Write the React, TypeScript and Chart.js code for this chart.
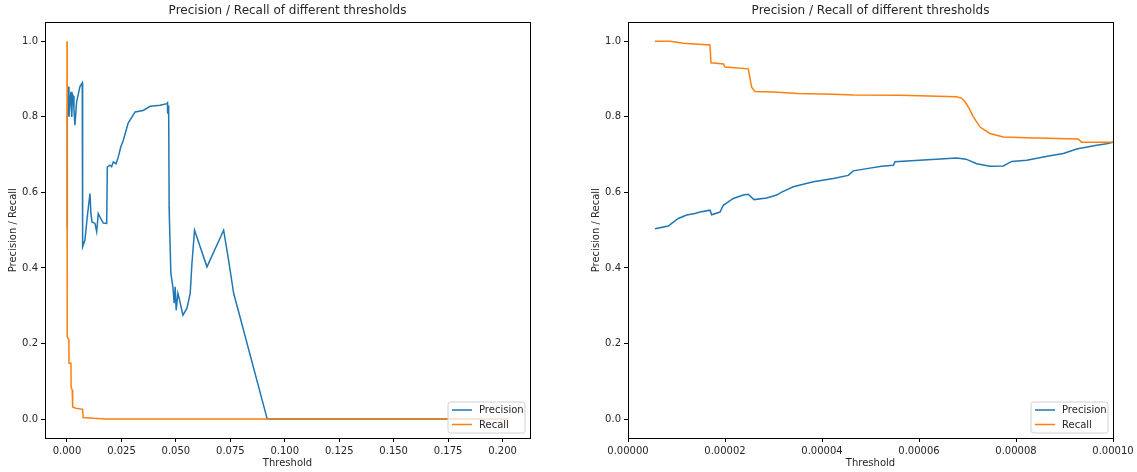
import React, { useEffect, useRef } from "react";
import { Chart, registerables } from "chart.js";

Chart.register(...registerables);

const FONT = "'DejaVu Sans', sans-serif";
const TEXT = "#262626";
const BLUE = "#1f77b4";
const ORANGE = "#ff7f0e";

const chartTitle = "Precision / Recall of different thresholds";
const xAxisTitle = "Threshold";
const yAxisTitle = "Precision / Recall";
const seriesNames = ["Precision", "Recall"];

const yTickValues = [0, 0.2, 0.4, 0.6, 0.8, 1.0];
const leftXTickValues = [0, 0.025, 0.05, 0.075, 0.1, 0.125, 0.15, 0.175, 0.2];
const rightXTickValues = [0, 0.00002, 0.00004, 0.00006, 0.00008, 0.0001];

// Left panel: full threshold range
const leftPrecisionX = [
  0.0000056, 0.00005, 0.0001, 0.0003, 0.00055, 0.0009, 0.00134, 0.0018, 0.0022, 0.0025,
  0.00285, 0.0032, 0.00364, 0.00442, 0.0052, 0.00594, 0.007, 0.00718, 0.00824, 0.0093,
  0.01054, 0.011, 0.01146, 0.01284, 0.01363, 0.01436, 0.01547, 0.01667, 0.01823, 0.01851,
  0.01975, 0.0205, 0.02127, 0.02251, 0.02357, 0.02468, 0.02587, 0.02804, 0.03126, 0.03494,
  0.03817, 0.04277, 0.04586, 0.04613, 0.0462, 0.0464, 0.0467, 0.04691, 0.047, 0.0477,
  0.04862, 0.04922, 0.04968, 0.05014, 0.05092, 0.0515, 0.05322, 0.05506, 0.05658, 0.05737,
  0.05856, 0.06427, 0.07192, 0.07422, 0.07652, 0.0796, 0.09194, 0.2025,
];
const leftPrecisionY = [
  0.504, 0.68, 0.733, 0.8, 0.88, 0.8, 0.835, 0.866, 0.8, 0.86,
  0.855, 0.82, 0.778, 0.84, 0.86, 0.88, 0.89, 0.456, 0.474, 0.535,
  0.597, 0.544, 0.522, 0.518, 0.496, 0.544, 0.531, 0.519, 0.518, 0.667,
  0.672, 0.668, 0.681, 0.676, 0.694, 0.72, 0.738, 0.783, 0.813, 0.817,
  0.828, 0.831, 0.835, 0.837, 0.809, 0.83, 0.8, 0.562, 0.535, 0.385,
  0.35, 0.307, 0.35, 0.288, 0.333, 0.32, 0.275, 0.293, 0.333, 0.412,
  0.5, 0.403, 0.5, 0.42, 0.333, 0.267, 0.0, 0.0,
];
const leftRecallX = [
  0.0000056, 0.00001, 0.00002, 0.00003, 0.0001, 0.00015, 0.00028, 0.00087, 0.0009, 0.0018,
  0.0019, 0.0024, 0.0026, 0.004, 0.0072, 0.0074, 0.012, 0.0175, 0.03, 0.2025,
];
const leftRecallY = [
  1.0, 0.998, 0.94, 0.86, 0.733, 0.55, 0.218, 0.21, 0.148, 0.148,
  0.085, 0.077, 0.032, 0.029, 0.026, 0.004, 0.002, 0.0005, 0.0, 0.0,
];

// Right panel: zoom on thresholds 0 .. 0.0001
const rightPrecisionX = [
  0.00000557, 0.00000831, 0.00000901, 0.00001037, 0.0000121, 0.00001381, 0.00001485, 0.00001691, 0.00001726, 0.00001897,
  0.00001965, 0.00002171, 0.00002377, 0.0000248, 0.00002598, 0.0000286, 0.00003066, 0.00003169, 0.00003408, 0.00003821,
  0.00004233, 0.00004542, 0.00004645, 0.00004922, 0.00005231, 0.0000547, 0.00005505, 0.00006777, 0.00006969, 0.0000719,
  0.00007464, 0.00007738, 0.00007911, 0.00008221, 0.00008701, 0.00008975, 0.00009252, 0.00009664, 0.0000987, 0.0001,
];
const rightPrecisionY = [
  0.504, 0.511, 0.518, 0.531, 0.54, 0.544, 0.548, 0.553, 0.541, 0.548,
  0.566, 0.584, 0.593, 0.595, 0.581, 0.585, 0.593, 0.601, 0.615, 0.628,
  0.637, 0.645, 0.657, 0.663, 0.669, 0.672, 0.681, 0.691, 0.688, 0.676,
  0.669, 0.67, 0.682, 0.685, 0.697, 0.703, 0.715, 0.725, 0.729, 0.733,
];
const rightRecallX = [
  0.00000557, 0.0000087, 0.0000114, 0.0000169, 0.0000171, 0.0000197, 0.00002, 0.0000248, 0.0000255, 0.0000262,
  0.00003, 0.000035, 0.0000423, 0.0000465, 0.0000561, 0.0000678, 0.0000688, 0.0000695, 0.0000703, 0.0000712,
  0.0000726, 0.0000746, 0.0000774, 0.0000822, 0.0000928, 0.0000935, 0.0001,
];
const rightRecallY = [
  1.0, 1.0, 0.995, 0.99, 0.943, 0.94, 0.932, 0.927, 0.878, 0.867,
  0.866, 0.862, 0.86, 0.858, 0.857, 0.853, 0.849, 0.84, 0.823, 0.8,
  0.773, 0.756, 0.747, 0.745, 0.7415, 0.733, 0.733,
];

const zip = (xs: number[], ys: number[]) => xs.map((x, i) => ({ x, y: ys[i] }));

const framePlugin = {
  id: "frame",
  afterDatasetsDraw(chart: any) {
    const { ctx, chartArea } = chart;
    ctx.save();
    ctx.strokeStyle = "#000";
    ctx.lineWidth = 1;
    ctx.strokeRect(
      Math.round(chartArea.left) + 0.5,
      Math.round(chartArea.top) + 0.5,
      Math.round(chartArea.right - chartArea.left),
      Math.round(chartArea.bottom - chartArea.top)
    );
    ctx.restore();
  },
};

const legendPlugin = {
  id: "mplLegend",
  afterDraw(chart: any) {
    const { ctx, chartArea } = chart;
    const w = 77;
    const h = 31;
    const right = chartArea.right - 5;
    const bottom = chartArea.bottom - 5;
    const left = right - w;
    const top = bottom - h;
    ctx.save();
    ctx.beginPath();
    const r = 2.5;
    ctx.moveTo(left + r, top);
    ctx.lineTo(right - r, top);
    ctx.quadraticCurveTo(right, top, right, top + r);
    ctx.lineTo(right, bottom - r);
    ctx.quadraticCurveTo(right, bottom, right - r, bottom);
    ctx.lineTo(left + r, bottom);
    ctx.quadraticCurveTo(left, bottom, left, bottom - r);
    ctx.lineTo(left, top + r);
    ctx.quadraticCurveTo(left, top, left + r, top);
    ctx.closePath();
    ctx.fillStyle = "rgba(255,255,255,0.8)";
    ctx.fill();
    ctx.strokeStyle = "#d0d0d0";
    ctx.lineWidth = 1;
    ctx.stroke();
    const ds = chart.data.datasets;
    ds.forEach((d: any, i: number) => {
      const y = top + 8 + i * 14.5;
      ctx.beginPath();
      ctx.strokeStyle = d.borderColor;
      ctx.lineWidth = 1.5;
      ctx.moveTo(left + 4, y);
      ctx.lineTo(left + 24, y);
      ctx.stroke();
      ctx.fillStyle = TEXT;
      ctx.font = `10px ${FONT}`;
      ctx.textBaseline = "middle";
      ctx.textAlign = "left";
      ctx.fillText(d.label, left + 31, y + 0.5);
    });
    ctx.restore();
  },
};

function makeConfig(
  precX: number[],
  precY: number[],
  recX: number[],
  recY: number[],
  xMin: number,
  xMax: number,
  xTicks: number[],
  decimals: number,
  yAxisWidth: number,
  yTitlePad: number,
  rightPad: number
): any {
  const tickFont = { family: FONT, size: 10 };
  return {
    type: "line",
    data: {
      datasets: [
        {
          label: seriesNames[0],
          data: zip(precX, precY),
          borderColor: BLUE,
          backgroundColor: BLUE,
          borderWidth: 1.5,
          pointRadius: 0,
          tension: 0,
          fill: false,
          order: 1,
        },
        {
          label: seriesNames[1],
          data: zip(recX, recY),
          borderColor: ORANGE,
          backgroundColor: ORANGE,
          borderWidth: 1.5,
          pointRadius: 0,
          tension: 0,
          fill: false,
          order: 0,
        },
      ],
    },
    options: {
      responsive: false,
      animation: false,
      devicePixelRatio: 1,
      parsing: true,
      layout: { padding: { left: 0, right: rightPad, top: 0, bottom: 0 } },
      plugins: {
        legend: { display: false },
        tooltip: { enabled: false },
        title: {
          display: true,
          text: chartTitle,
          fullSize: false,
          color: TEXT,
          font: { family: FONT, size: 12, weight: "normal", lineHeight: 1.2 },
          padding: { top: 4, bottom: 4 },
        },
      },
      scales: {
        x: {
          type: "linear",
          min: xMin,
          max: xMax,
          afterBuildTicks: (s: any) => {
            s.ticks = xTicks.map((v) => ({ value: v }));
          },
          afterFit: (s: any) => {
            s.height = 34;
          },
          ticks: {
            callback: (v: any) => Number(v).toFixed(decimals),
            color: TEXT,
            font: tickFont,
            padding: 3,
            maxRotation: 0,
            autoSkip: false,
          },
          grid: {
            drawOnChartArea: false,
            drawTicks: true,
            tickLength: 4,
            color: "#000",
            tickColor: "#000",
          },
          border: { display: false },
          title: {
            display: true,
            text: xAxisTitle,
            color: TEXT,
            font: { family: FONT, size: 10, lineHeight: 1.2 },
            padding: { top: 0, bottom: 3 },
          },
        },
        y: {
          type: "linear",
          min: -0.05,
          max: 1.05,
          afterBuildTicks: (s: any) => {
            s.ticks = yTickValues.map((v) => ({ value: v }));
          },
          afterFit: (s: any) => {
            s.width = yAxisWidth;
          },
          ticks: {
            callback: (v: any) => Number(v).toFixed(1),
            color: TEXT,
            font: tickFont,
            padding: 3,
          },
          grid: {
            drawOnChartArea: false,
            drawTicks: true,
            tickLength: 4,
            color: "#000",
            tickColor: "#000",
          },
          border: { display: false },
          title: {
            display: true,
            text: yAxisTitle,
            color: TEXT,
            font: { family: FONT, size: 10, lineHeight: 1.2 },
            padding: { top: yTitlePad, bottom: 0 },
          },
        },
      },
    },
    plugins: [framePlugin, legendPlugin],
  };
}

function Panel(props: { left: number; width: number; config: () => any }) {
  const ref = useRef<HTMLCanvasElement | null>(null);
  useEffect(() => {
    if (!ref.current) return;
    const chart = new Chart(ref.current, props.config());
    return () => chart.destroy();
  }, []);
  return (
    <div style={{ position: "absolute", left: props.left, top: 0, width: props.width, height: 472 }}>
      <canvas ref={ref} width={props.width} height={472} style={{ display: "block" }} />
    </div>
  );
}

export default function App() {
  return (
    <div
      style={{
        position: "fixed",
        left: 0,
        top: 0,
        width: 1137,
        height: 472,
        background: "#fff",
        overflow: "hidden",
      }}
    >
      <Panel
        left={0}
        width={560}
        config={() =>
          makeConfig(leftPrecisionX, leftPrecisionY, leftRecallX, leftRecallY, -0.0101, 0.2126, leftXTickValues, 3, 45, 7, 30)
        }
      />
      <Panel
        left={570}
        width={567}
        config={() =>
          makeConfig(rightPrecisionX, rightPrecisionY, rightRecallX, rightRecallY, 0, 0.0001, rightXTickValues, 5, 58, 20, 24)
        }
      />
    </div>
  );
}
